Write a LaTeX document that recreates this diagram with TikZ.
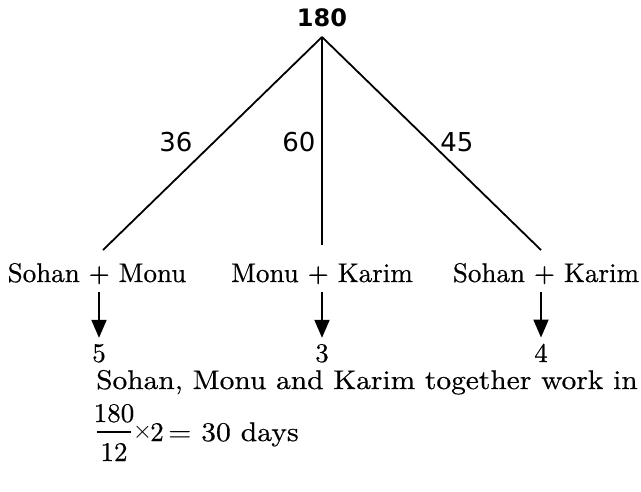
\documentclass[tikz,border=0pt]{standalone}
\usepackage{fontspec}
\usetikzlibrary{arrows.meta}
% slightly heavier Latin Modern for the labels, plain DejaVu Sans for the shares
\newfontfamily\serifwide[FakeStretch=1.0,FakeBold=0.5]{lmroman10-regular.otf}
\newfontfamily\serifwider[FakeStretch=1.09,FakeBold=0.5]{lmroman10-regular.otf}
\newfontfamily\serifres[FakeStretch=1.1,FakeBold=0.5]{lmroman10-regular.otf}
\newfontfamily\sansnum{DejaVu Sans}
\begin{document}
\begin{tikzpicture}[x=1pt,y=-1pt,
  edge/.style={line width=1.8pt},
  down/.style={line width=2pt,-{Triangle[length=18pt,width=15pt]}},
  pair/.style={font=\serifwide\fontsize{27}{32}\selectfont,inner sep=0pt,anchor=base},
  share/.style={font=\sansnum\fontsize{26}{30}\selectfont,inner sep=0pt},
  total/.style={font=\sansnum\bfseries\fontsize{24}{28}\selectfont,inner sep=0pt}]
\useasboundingbox (0,0) rectangle (641,491);

% total work at the top
\node[total] (total) at (322,18) {180};
\coordinate (apex) at (322,37);

% the three pairs
\node[pair] (sm) at (97,282) {Sohan + Monu};
\node[pair] (mk) at (322,282) {Monu + Karim};
\node[pair] (sk) at (546,282) {Sohan + Karim};
\coordinate (smtop) at (103,250);
\coordinate (mktop) at (322,245);
\coordinate (sktop) at (541,250);

\draw[edge] (apex) -- (smtop);
\draw[edge] (apex) -- (mktop);
\draw[edge] (apex) -- (sktop);

% work per day of each pair
\node[share] (s36) at (176,142) {36};
\node[share] (s60) at (299,142) {60};
\node[share] (s45) at (457,142) {45};

% days taken by each pair
\node[pair] (d5) at (99,362) {5};
\node[pair] (d3) at (322,362) {3};
\node[pair] (d4) at (541,362) {4};

\draw[down] ([yshift=-8pt]sm.south -| d5) -- ([yshift=6pt]d5.north);
\draw[down] ([yshift=-8pt]mk.south -| d3) -- ([yshift=6pt]d3.north);
\draw[down] ([yshift=-8pt]sk.south -| d4) -- ([yshift=6pt]d4.north);

% conclusion
\node[font=\serifwider\fontsize{27}{32}\selectfont,inner sep=0pt,anchor=base west]
  (summary) at (96,389) {Sohan, Monu and Karim together work in};

\node[pair] (num) at (114,422) {180};
\node[pair] (den) at (114,461) {12};
\coordinate (barl) at (97,432);
\coordinate (barr) at (131,432);
\draw[line width=1.2pt] (barl) -- (barr);
\node[inner sep=0pt,font=\fontsize{31}{34}\selectfont] (times) at (142.5,432) {$\times$};
\node[pair] (two) at (157,441) {2};
\node[font=\serifres\fontsize{27}{32}\selectfont,inner sep=0pt,anchor=base west]
  (result) at (168,441) {= 30 days};
\end{tikzpicture}
\end{document}
